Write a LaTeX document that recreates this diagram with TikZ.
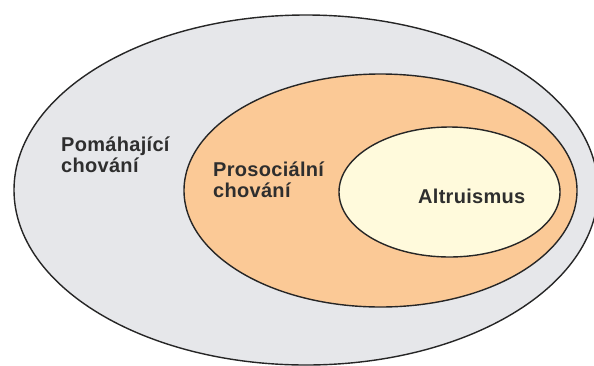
\documentclass[tikz,border=0pt]{standalone}
\usepackage{fontspec}
\setmainfont{Liberation Sans}
\newfontfamily\lblfont[LetterSpace=1.5]{Liberation Sans}
\definecolor{outerfill}{HTML}{E6E7EA}
\definecolor{midfill}{HTML}{FBC996}
\definecolor{innerfill}{HTML}{FFFADC}
\definecolor{edge}{HTML}{262626}
\definecolor{txt}{HTML}{2E2E2E}
\begin{document}
\begin{tikzpicture}[x=1pt,y=-1pt,
  ring/.style={draw=edge,line width=1.4pt},
  lbl/.style={font=\lblfont\bfseries\fontsize{20}{21}\selectfont,text=txt,inner sep=0pt,align=left,anchor=base west}]
\useasboundingbox (0,0) rectangle (594,365);
\clip (0,0) rectangle (594,365);
\fill[white] (0,0) rectangle (594,365);
\draw[ring,fill=outerfill] (306,190) ellipse [x radius=292pt, y radius=175pt];
\draw[ring,fill=midfill] (380.5,190.5) ellipse [x radius=196.5pt, y radius=116.5pt];
\draw[ring,fill=innerfill] (449.5,192) ellipse [x radius=110.5pt, y radius=65pt];
\node[lbl] (help) at (61,172) {Pomáhající\\chování};
\node[lbl] (pro) at (213,197) {Prosociální\\chování};
\node[lbl] (alt) at (418,203) {Altruismus};
\end{tikzpicture}
\end{document}
